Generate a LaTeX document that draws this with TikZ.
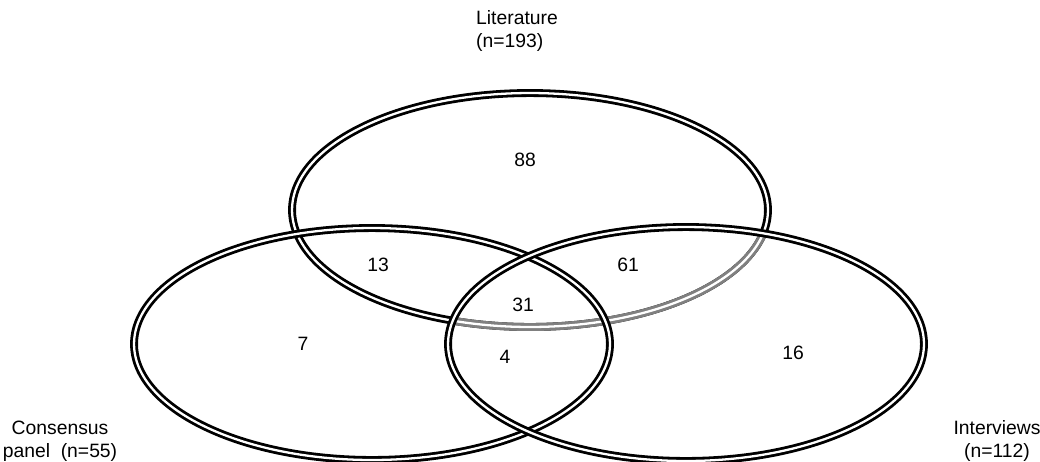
\documentclass[tikz,border=0pt]{standalone}
\usepackage{fontspec}
\setmainfont{Liberation Sans}
\tikzset{
  ring/.style={draw=black,double=white,line width=1.6pt,double distance=1.3pt},
  count/.style={font=\fontsize{11}{13}\selectfont},
  setname/.style={font=\fontsize{11}{13}\selectfont,inner sep=0pt}
}
\begin{document}
\begin{tikzpicture}[x=0.02cm,y=-0.02cm]
				\useasboundingbox(0,0)rectangle(1040,461);
				\coordinate(lit)at(530,210);
				\coordinate(con)at(372,344);
				\coordinate(int)at(686,344);
				\draw[ring](lit)ellipse[x radius=4.76cm,y radius=2.34cm];
				\begin{scope}
					\clip(int)ellipse[x radius=4.76cm,y radius=2.34cm];
					\draw[ring,draw=gray](lit)ellipse[x radius=4.76cm,y radius=2.34cm];
				\end{scope}
				\draw[ring](con)ellipse[x radius=4.76cm,y radius=2.32cm];
				\draw[ring](int)ellipse[x radius=4.76cm,y radius=2.34cm];
				\node[setname,align=left](litname)at(517,31){Literature\\(n=193)};
				\node[setname,align=center](conname)at(60,441){Consensus\\panel\ \ (n=55)};
				\node[setname,align=center](intname)at(997,441){Interviews\\(n=112)};
				\node[count](a)at(525,160){88};
				\node[count](b)at(378,265){13};
				\node[count](c)at(628,265){61};
				\node[count](d)at(523,305){31};
				\node[count](e)at(303,344){7};
				\node[count](f)at(505,357){4};
				\node[count](g)at(793,353){16};
			\end{tikzpicture}
\end{document}
